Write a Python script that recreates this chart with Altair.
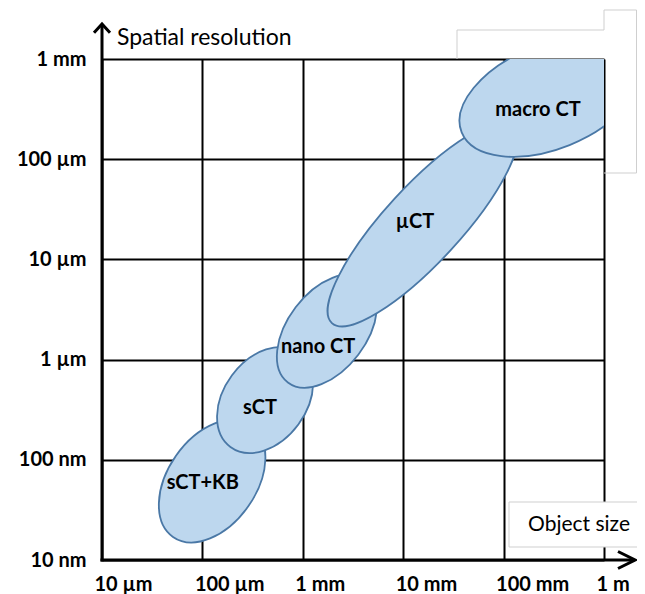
import altair as alt
import pandas as pd

# ---------------- data ----------------
x_tick_values = [1e-5, 1e-4, 1e-3, 1e-2, 1e-1, 1.0]
x_tick_labels = ["10 µm", "100 µm", "1 mm", "10 mm", "100 mm", "1 m"]
y_tick_values = [1e-8, 1e-7, 1e-6, 1e-5, 1e-4, 1e-3]
y_tick_labels = ["10 nm", "100 nm", "1 µm", "10 µm", "100 µm", "1 mm"]

techniques = ["sCT+KB", "sCT", "nano CT", "µCT", "macro CT"]
object_size_center = [1.25e-4, 4.21e-4, 1.74e-3, 1.57e-2, 0.29]     # m
resolution_center = [6.14e-8, 3.95e-7, 1.93e-6, 2.25e-5, 4.2e-4]   # m
major_half_decades = [0.68, 0.582, 0.644, 1.34, 0.95]              # semi-axis, decades
minor_half_decades = [0.44, 0.412, 0.392, 0.38, 0.52]
tilt_deg = [55, 53.6, 52.8, 47.4, 22]
label_object_size = [1.01e-4, 3.75e-4, 1.42e-3, 1.31e-2, 0.22]
label_resolution = [5.87e-8, 3.29e-7, 1.34e-6, 2.36e-5, 3.1e-4]

# ---------------- layout ----------------
W, H = 502, 501
PX_PER_DECADE = (W / 5 + H / 5) / 2
FONT = "Lato"
FILL = "#BDD7EE"
EDGE = "#4A78A6"
BOX = "#CFCFCF"
K = 0.5523


def ellipse_path(r):
    return (f"M -1 0 C -1 {-K*r:.4f} {-K:.4f} {-r:.4f} 0 {-r:.4f} "
            f"C {K:.4f} {-r:.4f} 1 {-K*r:.4f} 1 0 "
            f"C 1 {K*r:.4f} {K:.4f} {r:.4f} 0 {r:.4f} "
            f"C {-K:.4f} {r:.4f} -1 {K*r:.4f} -1 0 Z")


df = pd.DataFrame({
    "tech": techniques,
    "obj": object_size_center,
    "res": resolution_center,
    "lx": label_object_size,
    "ly": label_resolution,
    "path": [ellipse_path(b / a) for a, b in zip(major_half_decades, minor_half_decades)],
    "size": [(2 * a * PX_PER_DECADE) ** 2 for a in major_half_decades],
    "angle": [360 - t for t in tilt_deg],
    "order": list(range(len(techniques))),
})


def label_expr(values, labels):
    expr = f"'{labels[-1]}'"
    for v, lab in reversed(list(zip(values[:-1], labels[:-1]))):
        expr = f"datum.value < {v * 3:g} ? '{lab}' : ({expr})"
    return expr


common_axis = dict(
    title=None, domain=False, ticks=False, grid=True, gridColor="black",
    gridWidth=2, gridOpacity=1, labelFont=FONT, labelFontSize=20,
    labelFontWeight="bold", labelColor="black", labelOverlap=False,
    labelFlush=False, labelBound=False,
)

x_scale = alt.Scale(type="log", domain=[1e-5, 1.0], nice=False)
y_scale = alt.Scale(type="log", domain=[1e-8, 1e-3], nice=False)
x_axis = alt.Axis(values=x_tick_values, labelExpr=label_expr(x_tick_values, x_tick_labels),
                  labelAlign="left", labelOffset=-8, labelPadding=14, labelBaseline="top",
                  **common_axis)
y_axis = alt.Axis(values=y_tick_values, labelExpr=label_expr(y_tick_values, y_tick_labels),
                  labelAlign="right", labelPadding=16, labelBaseline="middle",
                  **common_axis)

base = alt.Chart(df)

ellipses = base.mark_point(
    filled=True, fill=FILL, stroke=EDGE, strokeWidth=1.8, opacity=1, clip=True
).encode(
    x=alt.X("obj:Q", scale=x_scale, axis=x_axis),
    y=alt.Y("res:Q", scale=y_scale, axis=y_axis),
    shape=alt.Shape("path:N", scale=None),
    size=alt.Size("size:Q", scale=None),
    angle=alt.Angle("angle:Q", scale=None),
    order=alt.Order("order:Q"),
)

labels = base.mark_text(
    font=FONT, fontSize=20, fontWeight="bold", color="black"
).encode(
    x=alt.X("lx:Q", scale=x_scale, axis=x_axis),
    y=alt.Y("ly:Q", scale=y_scale, axis=y_axis),
    text="tech:N",
)

one = alt.Chart(pd.DataFrame({"a": [0]}))

# axis lines with arrows
y_line = one.mark_rule(color="black", strokeWidth=3).encode(
    x=alt.value(0), y=alt.value(-34), y2=alt.value(H + 1.5))
x_line = one.mark_rule(color="black", strokeWidth=3).encode(
    x=alt.value(-1.5), x2=alt.value(532), y=alt.value(H))
y_arrow = one.mark_point(
    shape="M -1 1.1 L 0 0 L 1 1.1", filled=False, stroke="black", strokeWidth=3,
    opacity=1, size=256
).encode(x=alt.value(0), y=alt.value(-35))
x_arrow = one.mark_point(
    shape="M -1 -0.5 L 0 0 L -1 0.5", filled=False, stroke="black", strokeWidth=3,
    opacity=1, size=1156
).encode(x=alt.value(533), y=alt.value(H))

# faint frame at the top right
seg = pd.DataFrame({
    "x0": [355, 355, 502, 502, 534.5, 502],
    "x1": [355, 502, 502, 534.5, 534.5, 534.5],
    "y0": [-29, -29, -49, -49, -49, 114],
    "y1": [0, -29, -29, -49, 114, 114],
})
frame = alt.Chart(seg).mark_rule(color=BOX, strokeWidth=1).encode(
    x=alt.X("x0:Q", scale=None), x2="x1:Q",
    y=alt.Y("y0:Q", scale=None), y2="y1:Q",
)

# "Object size" box
obj_box = one.mark_rect(fill="white", stroke=BOX, strokeWidth=1).encode(
    x=alt.value(407), x2=alt.value(570), y=alt.value(443), y2=alt.value(488))
obj_text = one.mark_text(font=FONT, fontSize=21, color="black", align="center",
                         baseline="middle").encode(
    x=alt.value(477), y=alt.value(466), text=alt.value("Object size"))
y_title = one.mark_text(font=FONT, fontSize=23, color="black", align="left",
                        baseline="middle").encode(
    x=alt.value(15), y=alt.value(-21), text=alt.value("Spatial resolution"))

chart = alt.layer(
    ellipses, labels, frame, obj_box, obj_text, y_line, x_line, y_arrow, x_arrow, y_title
).properties(
    width=W, height=H,
    autosize=alt.AutoSizeParams(type="none"),
    padding={"left": 94, "top": 51, "right": 33, "bottom": 34},
).configure_view(stroke=None).configure(background="white")

chart.save("out.html", embed_options={"renderer": "svg", "actions": False})
